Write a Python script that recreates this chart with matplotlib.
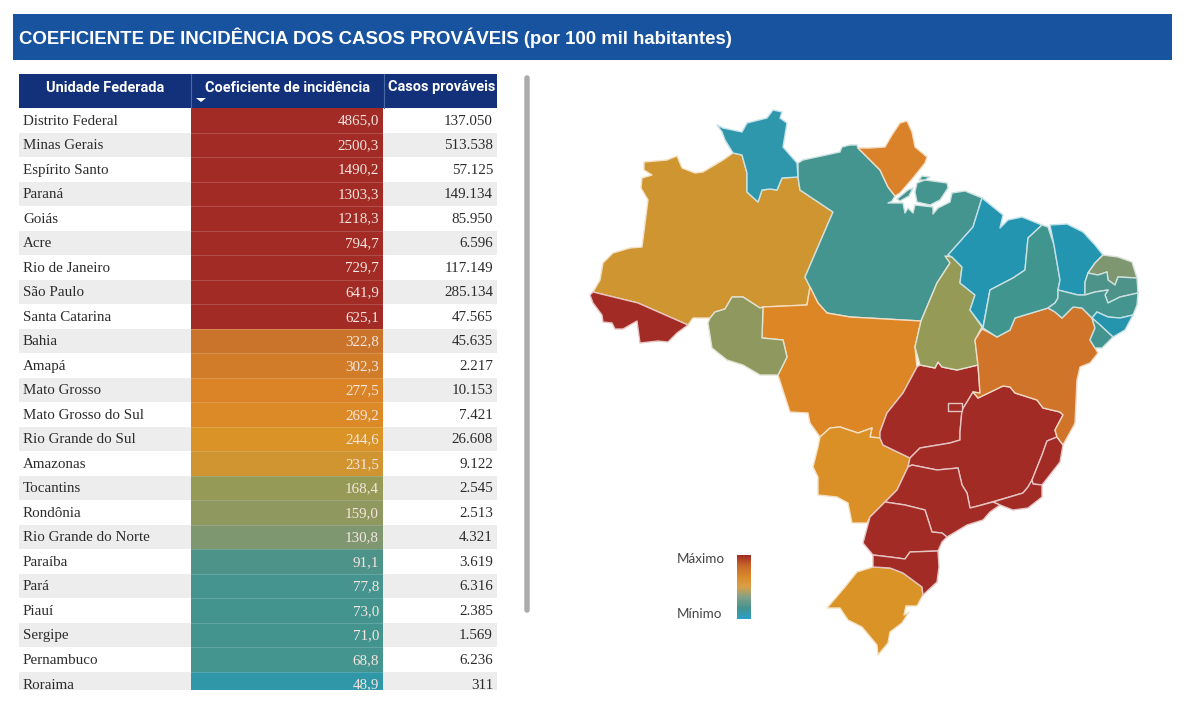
#!/usr/bin/env python3
import matplotlib
matplotlib.use('Agg')
import matplotlib.pyplot as plt
from matplotlib.colors import LinearSegmentedColormap, to_rgb
from matplotlib.patches import Polygon, Rectangle, FancyBboxPatch
import numpy as np

W, H = 1200, 705

# table data
states = ['Distrito Federal', 'Minas Gerais', 'Espírito Santo', 'Paraná', 'Goiás', 'Acre',
          'Rio de Janeiro', 'São Paulo', 'Santa Catarina', 'Bahia', 'Amapá', 'Mato Grosso',
          'Mato Grosso do Sul', 'Rio Grande do Sul', 'Amazonas', 'Tocantins', 'Rondônia',
          'Rio Grande do Norte', 'Paraíba', 'Pará', 'Piauí', 'Sergipe', 'Pernambuco', 'Roraima']
coef_labels = ['4865,0', '2500,3', '1490,2', '1303,3', '1218,3', '794,7', '729,7', '641,9',
               '625,1', '322,8', '302,3', '277,5', '269,2', '244,6', '231,5', '168,4', '159,0',
               '130,8', '91,1', '77,8', '73,0', '71,0', '68,8', '48,9']
casos_labels = ['137.050', '513.538', '57.125', '149.134', '85.950', '6.596', '117.149', '285.134',
                '47.565', '45.635', '2.217', '10.153', '7.421', '26.608', '9.122', '2.545', '2.513',
                '4.321', '3.619', '6.316', '2.385', '1.569', '6.236', '311']
coef_colors = ['#A22B25'] * 9 + ['#C9742A', '#D07C29', '#DA8427', '#DC8A27', '#D99327', '#D09530',
                                 '#969A57', '#8F985F', '#7E9770', '#4E9389', '#46948F', '#43948F',
                                 '#43948F', '#44948F', '#2F97A8']

# map outlines
ac = [(590,295),(593,292),(638,303),(688,325),(677,333),(668,342),(658,341),(640,343),(637,321),
      (623,329),(615,329),(612,323),(603,322),(602,315),(593,303)]
am = [(593,292),(600,280),(603,263),(613,253),(630,248),(642,247),(648,200),(641,188),(642,178),
      (652,175),(644,170),(644,162),(667,160),(677,156),(682,168),(695,173),(703,172),(723,160),
      (733,153),(742,155),(747,173),(747,192),(758,202),(762,190),(770,189),(777,190),(782,178),
      (798,177),(800,190),(833,212),(805,277),(810,287),(807,305),(763,307),(760,308),(743,297),
      (732,297),(725,309),(715,312),(710,318),(693,318),(688,325),(638,303)]
rr = [(717,125),(723,128),(742,132),(747,123),(767,118),(773,110),(782,112),(780,118),(787,123),
      (783,147),(797,163),(798,177),(782,178),(777,190),(770,189),(762,190),(758,202),(747,192),
      (747,173),(742,155),(733,153),(725,140),(722,132)]
ro = [(710,318),(715,312),(725,309),(732,297),(743,297),(760,308),(763,307),(762,338),(783,340),
      (787,357),(778,375),(760,375),(743,365),(727,360),(712,348),(708,323)]
mt = [(763,307),(807,305),(810,287),(818,303),(827,313),(850,317),(921,321),(915,347),(917,367),
      (903,393),(887,413),(880,432),(880,438),(870,437),(872,428),(858,433),(840,427),(830,428),
      (820,437),(810,423),(808,413),(790,412),(778,375),(787,357),(783,340),(762,338)]
ms = [(820,437),(830,428),(840,427),(858,433),(872,428),(870,437),(880,438),(883,445),(910,458),
      (908,467),(897,490),(885,502),(870,517),(867,523),(852,523),(848,503),(837,497),(818,495),
      (818,477),(813,467),(818,447)]
go = [(917,367),(920,365),(935,368),(938,362),(942,367),(957,370),(978,365),(980,393),(973,392),
      (967,402),(962,410),(960,432),(960,440),(950,443),(920,448),(910,458),(883,445),(880,438),
      (880,432),(887,413),(903,393)]
df = [(948,403),(962,403),(962,411),(948,411)]
mg = [(910,458),(920,448),(950,443),(960,440),(960,432),(962,410),(967,402),(973,392),(978,398),
      (1003,386),(1010,387),(1015,393),(1037,400),(1043,408),(1060,412),(1063,415),(1055,430),
      (1057,437),(1047,441),(1042,455),(1032,480),(1028,487),(1023,493),(978,506),(970,508),
      (967,493),(962,485),(958,468),(937,470),(912,465),(908,467)]
es = [(1047,441),(1057,437),(1063,445),(1060,462),(1042,485),(1033,484),(1032,480),(1042,455)]
rj = [(1028,487),(1032,480),(1033,484),(1042,485),(1042,497),(1028,508),(1013,510),(1000,505),
      (993,502),(1023,493)]
sp = [(908,467),(912,465),(937,470),(958,468),(962,485),(967,493),(970,508),(978,506),(993,502),
      (1000,505),(990,512),(983,520),(967,525),(947,537),(942,533),(932,532),(925,510),(905,505),
      (885,502),(897,490)]
pr = [(885,502),(905,505),(925,510),(932,532),(942,533),(947,537),(942,542),(938,551),(910,552),
      (905,559),(890,557),(873,555),(863,543),(870,517)]
sc = [(873,555),(890,557),(905,559),(910,552),(938,551),(939,567),(937,582),(923,595),(922,587),
      (903,573),(890,568),(873,567)]
rs = [(873,567),(890,568),(903,573),(922,587),(923,595),(917,606),(906,606),(904,615),(909,612),
      (902,623),(890,632),(888,643),(878,655),(877,645),(862,627),(848,620),(840,608),(827,608),
      (845,587),(857,572)]
to = [(945,256),(952,257),(962,267),(960,283),(975,295),(970,310),(982,327),(975,340),(978,365),
      (957,370),(942,367),(938,362),(935,368),(920,365),(915,347),(921,321),(937,283),(950,263)]
ba = [(982,329),(990,333),(997,337),(1010,330),(1015,318),(1048,308),(1055,312),(1062,318),
      (1073,307),(1082,308),(1092,318),(1095,328),(1090,340),(1095,348),(1098,353),(1090,363),
      (1080,367),(1077,380),(1075,423),(1073,427),(1063,445),(1057,437),(1055,430),(1063,415),
      (1060,412),(1043,408),(1037,400),(1015,393),(1010,387),(1003,386),(978,398),(973,392),
      (980,393),(978,365),(975,340)]
pa = [(798,163),(803,160),(840,152),(842,147),(850,145),(857,145),(858,148),(870,160),(880,170),
      (888,187),(895,196),(892,201),(888,203),(903,203),(905,213),(908,208),(913,213),(915,205),
      (933,207),(933,214),(938,208),(950,202),(952,193),(965,191),(982,198),(973,227),(948,255),
      (950,263),(937,283),(921,321),(850,317),(827,313),(818,303),(810,287),(805,277),(833,212),
      (800,190),(798,177)]
marajo = [(917,183),(925,180),(947,183),(948,188),(940,200),(930,205),(917,202),(915,192)]
islet_a = [(922,176),(930,177),(925,180),(919,180)]
islet_b = [(897,199),(908,190),(913,188),(909,196),(900,201)]
ap = [(858,148),(870,148),(885,147),(892,135),(900,123),(907,121),(912,132),(915,147),(927,157),
      (925,163),(913,178),(900,193),(895,196),(888,187),(880,170),(870,160)]
ma = [(982,198),(1003,215),(1000,228),(1008,220),(1022,217),(1042,225),(1028,238),(1025,270),
      (1013,278),(990,290),(983,327),(970,310),(975,295),(960,283),(962,267),(952,257),(948,255),
      (973,227)]
pi_ = [(1042,225),(1048,227),(1054,245),(1060,280),(1058,290),(1058,298),(1055,303),(1048,308),
       (1015,318),(1010,330),(997,337),(983,328),(990,290),(1013,278),(1025,270),(1028,238)]
ce = [(1050,225),(1067,224),(1083,232),(1095,245),(1103,255),(1095,263),(1088,273),(1085,282),
      (1085,295),(1078,295),(1058,290),(1060,280),(1054,245)]
rn = [(1103,255),(1118,257),(1132,262),(1137,278),(1118,277),(1115,285),(1108,280),(1107,272),
      (1098,275),(1088,273),(1095,263)]
pb = [(1088,273),(1098,275),(1107,272),(1108,280),(1115,285),(1118,277),(1137,278),(1138,293),
      (1120,297),(1108,303),(1105,295),(1108,290),(1095,292),(1085,295),(1085,282)]
pe = [(1058,290),(1078,295),(1085,295),(1095,292),(1108,290),(1105,295),(1108,303),(1120,297),
      (1138,293),(1137,305),(1133,315),(1120,318),(1108,317),(1097,312),(1092,318),(1082,308),
      (1073,307),(1062,318),(1055,312),(1048,308),(1055,303),(1058,298)]
al = [(1097,312),(1108,317),(1120,318),(1133,315),(1125,330),(1113,337),(1100,325),(1092,318)]
se = [(1092,318),(1100,325),(1113,337),(1102,348),(1095,348),(1090,340),(1095,328)]

RED = '#A22B25'
BLUE = '#2395B0'
TEAL = '#44948F'
map_shapes = [
    (am, '#CF9530'), (pa, TEAL), (marajo, TEAL), (islet_a, TEAL), (islet_b, TEAL), (mt, '#DC8626'),
    (ro, '#8F985F'), (ac, RED), (rr, '#2F97AC'), (ap, '#D9822A'), (ms, '#DA8F27'), (rs, '#D99327'),
    (go, RED), (mg, RED), (es, RED), (rj, RED), (sp, RED), (pr, RED), (sc, RED), (to, '#969A57'),
    (ba, '#CF7428'), (ma, BLUE), (pi_, '#41958F'), (ce, BLUE), (rn, '#7E9770'), (pb, '#4E9389'),
    (pe, '#44948F'), (al, '#2595AE'), (se, '#43948F'), (df, RED),
]
legend_stops = ['#A22B25', '#C9692A', '#D98A2A', '#D9A04A', '#7FA08A', '#44948F', '#2BA0C8']

fig = plt.figure(figsize=(W / 100, H / 100), dpi=100)
ax = fig.add_axes([0, 0, 1, 1])
ax.set_xlim(0, W)
ax.set_ylim(H, 0)
ax.axis('off')


def px(n):
    return n * 0.72


def lighter(colour, amount=0.72):
    r, g, b = to_rgb(colour)
    return (r + (1 - r) * amount, g + (1 - g) * amount, b + (1 - b) * amount)


# title bar
ax.add_patch(Rectangle((13, 14), 1159, 46, color='#17539F', lw=0))
ax.text(19, 38, 'COEFICIENTE DE INCIDÊNCIA DOS CASOS PROVÁVEIS (por 100 mil habitantes)',
        color='white', fontsize=px(18.7), fontweight='bold', family='Liberation Sans', va='center')

# table header
ax.add_patch(Rectangle((19, 74), 478, 34, color='#12317A', lw=0))
for x in [190.5, 383.5]:
    ax.plot([x, x], [74, 108], color='#4A68A8', lw=0.8)
HEAD = dict(color='white', fontsize=px(14.5), fontweight='bold', family='Roboto', va='center', ha='center')
ax.text(105, 87.5, 'Unidade Federada', **HEAD)
ax.text(287.5, 87.5, 'Coeficiente de incidência', **HEAD)
ax.text(441.5, 87.5, 'Casos prováveis', **HEAD)
ax.fill([196, 206, 201], [98, 98, 102], color='white', lw=0)

# table body
row_h = 24.52
top = 108
bottom = 690
clip = Rectangle((19, top), 478, bottom - top, transform=ax.transData)
BODY = dict(fontsize=px(15), family='Liberation Serif', va='center')
for i, name in enumerate(states):
    y0 = top + i * row_h
    h = min(row_h, bottom - y0)
    if i % 2 == 1:
        ax.add_patch(Rectangle((19, y0), 478, h, color='#EEEDED', lw=0))
    ax.add_patch(Rectangle((191, y0), 192, h + 0.3, color=coef_colors[i], lw=0))
    if i > 0:
        ax.plot([191, 383], [y0, y0], color='white', alpha=0.16, lw=0.8)
    yc = y0 + row_h / 2 + 0.8
    t1 = ax.text(23, yc, name, color='#2B2B2B', ha='left', **BODY)
    t2 = ax.text(379, yc, coef_labels[i], color='#F6E6E0', ha='right', **BODY)
    t3 = ax.text(493, yc, casos_labels[i], color='#2B2B2B', ha='right', **BODY)
    for t in (t1, t2, t3):
        t.set_clip_path(clip)
        t.set_clip_on(True)

# scrollbar
ax.add_patch(FancyBboxPatch((525, 76), 4, 536, boxstyle='round,pad=0,rounding_size=2',
                            color='#ABABAB', lw=1))

# map
for shape, colour in map_shapes:
    ax.add_patch(Polygon(shape, closed=True, facecolor=colour, edgecolor=lighter(colour), lw=1.0,
                         joinstyle='round'))

# legend
ax.text(700.5, 559, 'Máximo', color='#444444', fontsize=px(13.5), family='Lato', ha='center', va='center')
ax.text(699, 614, 'Mínimo', color='#444444', fontsize=px(13.5), family='Lato', ha='center', va='center')
cmap = LinearSegmentedColormap.from_list('legenda', legend_stops)
cax = fig.add_axes([737 / W, 1 - 619 / H, 14 / W, 64 / H])
cax.imshow(np.linspace(0, 1, 128).reshape(-1, 1), cmap=cmap, aspect='auto')
cax.axis('off')

fig.savefig('out.png', dpi=100)
